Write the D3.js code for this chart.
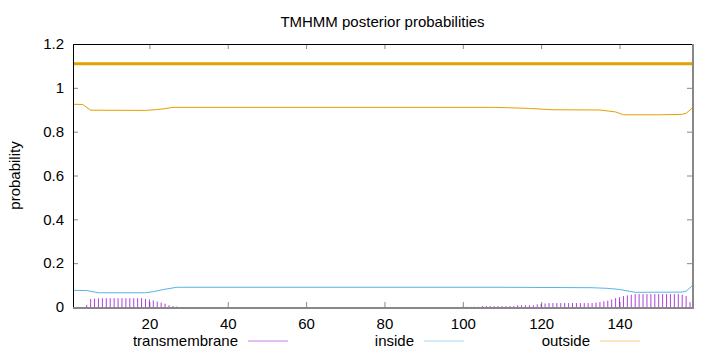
<!DOCTYPE html>
<html>
<head>
<meta charset="utf-8">
<script src="https://cdn.jsdelivr.net/npm/d3@7"></script>
<style>
	body { margin: 0; background: #fff; }
	svg { display: block; font-family: "Liberation Sans", Arial, sans-serif; }
</style>
</head>
<body>
<svg id="chart" width="720" height="352"></svg>
<script>
// x range of the plot (residues)
var seqRange = [0.5, 158.5];
var xTicks = [20, 40, 60, 80, 100, 120, 140];
var yTicks = [0, 0.2, 0.4, 0.6, 0.8, 1, 1.2];

// predicted topology (drawn as the bar above the curves)
var topoSegments = [{ from: 0.5, to: 158.5, level: 1.11, type: 'outside' }];

// outside probability as [residue, p]
var outsideProb = [
	[0.5, 0.925], [3, 0.924], [5, 0.898], [19, 0.897], [22, 0.901], [24, 0.905],
	[26, 0.911], [108, 0.911], [112, 0.909], [117, 0.906], [123, 0.900],
	[135, 0.899], [139, 0.890], [141, 0.877], [150, 0.877], [156, 0.879],
	[157, 0.884], [158.5, 0.906]
];

// inside probability
var insideProb = [
	[0.5, 0.076], [4, 0.075], [7, 0.065], [19, 0.065], [21, 0.070], [24, 0.081],
	[27, 0.090], [110, 0.090], [133, 0.088], [137, 0.085], [140, 0.080],
	[144, 0.067], [156, 0.068], [157, 0.072], [158.5, 0.096]
];

// transmembrane probability per residue (residues not listed are ~0)
var tmProb = [
	[4, 0.010], [5, 0.036], [6, 0.038], [7, 0.039], [8, 0.040], [9, 0.040],
	[10, 0.040], [11, 0.040], [12, 0.040], [13, 0.040], [14, 0.040], [15, 0.040],
	[16, 0.040], [17, 0.040], [18, 0.040], [19, 0.037], [20, 0.034], [21, 0.030],
	[22, 0.025], [23, 0.020], [24, 0.015], [25, 0.008], [26, 0.004], [27, 0.002],
	[100, 0.001], [101, 0.001], [102, 0.001], [103, 0.001], [104, 0.001],
	[105, 0.004], [106, 0.004], [107, 0.004], [108, 0.004], [109, 0.004],
	[110, 0.004], [111, 0.004], [112, 0.004], [113, 0.004],
	[114, 0.008], [115, 0.008], [116, 0.008], [117, 0.008], [118, 0.008],
	[119, 0.012], [120, 0.014], [121, 0.016],
	[122, 0.018], [123, 0.018], [124, 0.018], [125, 0.018], [126, 0.018], [127, 0.018],
	[128, 0.018], [129, 0.018], [130, 0.018], [131, 0.018], [132, 0.018], [133, 0.018],
	[134, 0.020], [135, 0.023], [136, 0.026], [137, 0.029], [138, 0.034], [139, 0.040],
	[140, 0.045], [141, 0.050], [142, 0.053], [143, 0.056],
	[144, 0.059], [145, 0.059], [146, 0.059], [147, 0.059], [148, 0.059], [149, 0.059],
	[150, 0.059], [151, 0.059], [152, 0.059], [153, 0.059], [154, 0.059], [155, 0.059],
	[156, 0.056], [157, 0.050], [158, 0.022]
];

var legendItems = [
	{ label: 'transmembrane', color: '#9400d3', textEnd: 238 },
	{ label: 'inside', color: '#56b4e9', textEnd: 414 },
	{ label: 'outside', color: '#e69f00', textEnd: 590 }
];

(function () {
	var svg = d3.select('#chart');
	var left = 73, right = 692, top = 44, bottom = 307;
	var colors = { transmembrane: '#9400d3', inside: '#56b4e9', outside: '#e69f00' };
	var fontSize = 15;

	var x = d3.scaleLinear().domain(seqRange).range([left, right]);
	var y = d3.scaleLinear().domain([0, 1.2]).range([bottom, top]);

	// title
	svg.append('text')
		.attr('x', (left + right) / 2)
		.attr('y', 27)
		.attr('text-anchor', 'middle')
		.attr('font-size', fontSize)
		.text('TMHMM posterior probabilities');

	// y axis label
	svg.append('text')
		.attr('transform', 'translate(20,' + ((top + bottom) / 2) + ') rotate(-90)')
		.attr('text-anchor', 'middle')
		.attr('font-size', fontSize)
		.text('probability');

	// axes, gnuplot style: inward ticks, mirrored
	var yAxis = d3.axisLeft(y).tickValues(yTicks).tickSize(-5).tickPadding(14)
		.tickFormat(function (d) { return d3.format('~g')(d); });
	var gy = svg.append('g').attr('transform', 'translate(' + left + ',0)').call(yAxis);
	var xAxis = d3.axisBottom(x).tickValues(xTicks).tickSize(-5).tickPadding(11);
	var gx = svg.append('g').attr('transform', 'translate(0,' + bottom + ')').call(xAxis);
	[gx, gy].forEach(function (g) {
		g.select('.domain').remove();
		g.selectAll('.tick line').attr('stroke', '#888');
		g.selectAll('.tick text').attr('font-size', fontSize).attr('fill', '#000')
			.attr('font-family', '"Liberation Sans", Arial, sans-serif');
	});
	gy.selectAll('.tick text').attr('x', -9);
	svg.append('g').attr('transform', 'translate(' + right + ',0)')
		.call(d3.axisRight(y).tickValues(yTicks).tickSize(-5).tickFormat(''))
		.call(function (g) { g.select('.domain').remove(); g.selectAll('line').attr('stroke', '#888'); });
	svg.append('g').attr('transform', 'translate(0,' + top + ')')
		.call(d3.axisTop(x).tickValues(xTicks).tickSize(-5).tickFormat(''))
		.call(function (g) { g.select('.domain').remove(); g.selectAll('line').attr('stroke', '#888'); });

	// transmembrane impulses
	svg.append('g').selectAll('line')
		.data(tmProb)
		.enter().append('line')
		.attr('x1', function (d) { return x(d[0]); })
		.attr('x2', function (d) { return x(d[0]); })
		.attr('y1', y(0))
		.attr('y2', function (d) { return y(d[1]); })
		.attr('stroke', colors.transmembrane)
		.attr('stroke-opacity', 0.75)
		.attr('stroke-width', 1);

	var line = d3.line()
		.x(function (d) { return x(d[0]); })
		.y(function (d) { return y(d[1]); });

	svg.append('path').datum(insideProb)
		.attr('d', line).attr('fill', 'none')
		.attr('stroke', colors.inside).attr('stroke-width', 1);
	svg.append('path').datum(outsideProb)
		.attr('d', line).attr('fill', 'none')
		.attr('stroke', colors.outside).attr('stroke-width', 1);

	// topology bar
	svg.append('g').selectAll('line')
		.data(topoSegments)
		.enter().append('line')
		.attr('x1', function (d) { return x(d.from); })
		.attr('x2', function (d) { return x(d.to); })
		.attr('y1', function (d) { return y(d.level); })
		.attr('y2', function (d) { return y(d.level); })
		.attr('stroke', function (d) { return colors[d.type]; })
		.attr('stroke-width', 3);

	// border
	svg.append('path')
		.attr('d', 'M' + right + ',' + bottom + 'H' + left + 'V' + top + 'H' + right)
		.attr('fill', 'none').attr('stroke', '#000').attr('stroke-width', 1)
		.attr('transform', 'translate(0.5,0.5)');
	svg.append('path')
		.attr('d', 'M' + left + ',' + (bottom + 1) + 'H' + (right + 1) + 'V' + top)
		.attr('fill', 'none').attr('stroke', '#888').attr('stroke-width', 2);

	// legend
	var leg = svg.append('g').selectAll('g')
		.data(legendItems)
		.enter().append('g');
	leg.append('text')
		.attr('x', function (d) { return d.textEnd; })
		.attr('y', 346)
		.attr('text-anchor', 'end')
		.attr('font-size', fontSize)
		.text(function (d) { return d.label; });
	leg.append('line')
		.attr('x1', function (d) { return d.textEnd + 10; })
		.attr('x2', function (d) { return d.textEnd + 50; })
		.attr('y1', 341)
		.attr('y2', 341)
		.attr('stroke', function (d) { return d.color; })
		.attr('stroke-opacity', 0.5)
		.attr('stroke-width', 1);
}());
</script>
</body>
</html>
